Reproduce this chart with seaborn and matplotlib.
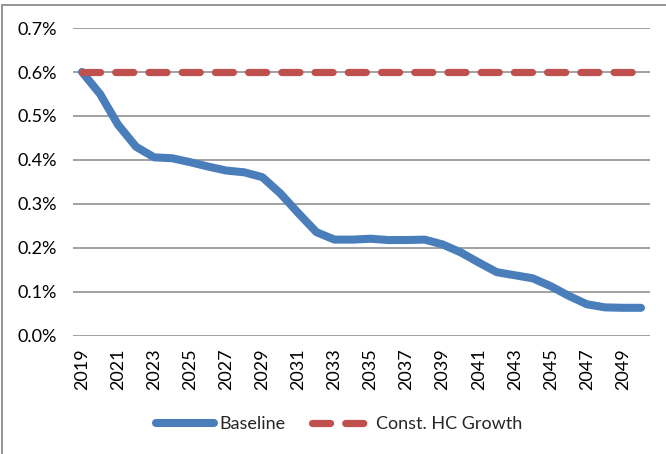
import matplotlib
matplotlib.use("Agg")
import matplotlib.pyplot as plt
from matplotlib.lines import Line2D
from matplotlib.ticker import FuncFormatter
import seaborn as sns
import pandas as pd

# Annual growth rates, in percent
years = list(range(2019, 2051))
baseline = [0.600, 0.550, 0.480, 0.430, 0.406, 0.404, 0.395, 0.385, 0.376, 0.372,
            0.361, 0.324, 0.279, 0.236, 0.219, 0.219, 0.221, 0.218, 0.218, 0.219,
            0.208, 0.190, 0.167, 0.145, 0.138, 0.131, 0.113, 0.091, 0.072, 0.065,
            0.064, 0.064]
const_hc = [0.600] * len(years)
series_names = ["Baseline", "Const. HC Growth"]
year_ticks = list(range(2019, 2050, 2))
y_ticks = [0.0, 0.1, 0.2, 0.3, 0.4, 0.5, 0.6, 0.7]

df = pd.DataFrame({"year": years, "Baseline": baseline, "Const. HC Growth": const_hc})

sns.set_theme(style="white")
plt.rcParams["font.family"] = ["Lato", "DejaVu Sans"]

BLUE = "#4A7EBB"
RED = "#C0504D"
GRID = "#878787"
FS = 13

fig = plt.figure(figsize=(6.66, 4.54), dpi=100)
ax = fig.add_axes([0.1096, 0.26, 0.976 - 0.1096, 0.9383 - 0.26])

sns.lineplot(data=df, x="year", y="Baseline", ax=ax, color=BLUE, linewidth=5.8,
             solid_capstyle="round", solid_joinstyle="round", label=series_names[0],
             legend=False)
sns.lineplot(data=df, x="year", y="Const. HC Growth", ax=ax, color=RED, linewidth=5.2,
             dashes=False, label=series_names[1], legend=False)
red_line = ax.get_lines()[-1]
red_line.set_dashes((2.5, 2.1))
red_line.set_dash_capstyle("round")

ax.set_xlim(2018.5, 2050.5)
ax.set_ylim(0, 0.7)
ax.set_yticks(y_ticks)
ax.yaxis.set_major_formatter(FuncFormatter(lambda v, _: f"{v:.1f}%"))
ax.set_xticks(year_ticks)
ax.set_xticklabels([str(y) for y in year_ticks], rotation=90)
ax.tick_params(axis="both", length=0, labelsize=FS, colors="#000000")
ax.tick_params(axis="x", pad=9)
ax.tick_params(axis="y", pad=11.5)
ax.set_xlabel("")
ax.set_ylabel("")

ax.grid(axis="y", color=GRID, linewidth=1.1)
ax.set_axisbelow(True)
for s in ax.spines.values():
    s.set_visible(False)

handles = [
    Line2D([], [], color=BLUE, linewidth=5.8, solid_capstyle="round"),
    Line2D([], [], color=RED, linewidth=5.2, dashes=(2.5, 2.1), dash_capstyle="round"),
]
fig.legend(handles, series_names, loc="center", bbox_to_anchor=(0.509, 0.066),
           ncol=2, frameon=False, fontsize=FS, handlelength=3.2, handletextpad=0.3,
           columnspacing=1.5)

# Chart-area frame (top and left edges)
frame_kw = dict(color="#8C8C8C", linewidth=1.3, transform=fig.transFigure)
fig.add_artist(Line2D([0.003, 1.0], [1 - 5 / 454, 1 - 5 / 454], **frame_kw))
fig.add_artist(Line2D([0.003, 0.003], [0.0, 1 - 5 / 454], **frame_kw))

fig.savefig("out.png", dpi=100)
